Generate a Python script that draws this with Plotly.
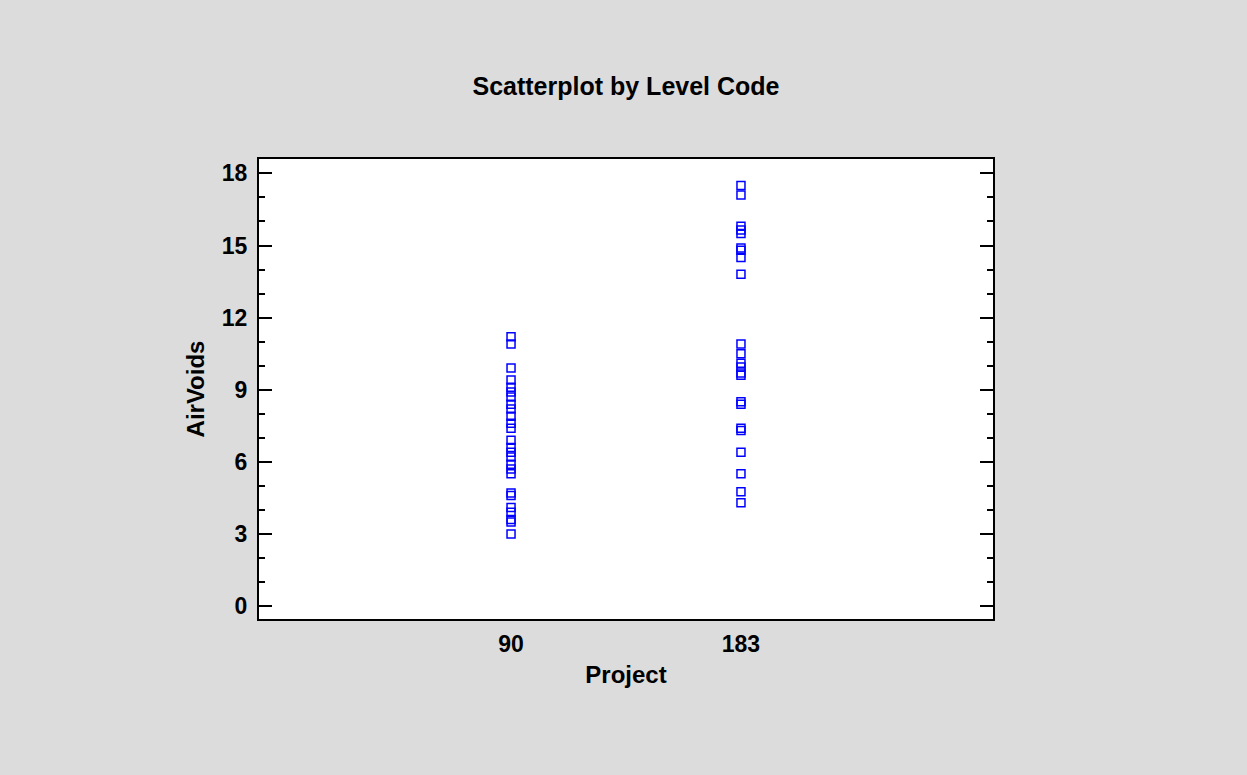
import plotly.graph_objects as go

projects = ["90", "183"]
airvoids_90 = [11.2, 10.9, 9.9, 9.4, 9.1, 8.9, 8.7, 8.4, 8.2, 7.9, 7.6, 7.4, 6.9, 6.6,
               6.4, 6.2, 5.9, 5.7, 5.5, 4.7, 4.6, 4.1, 3.9, 3.6, 3.5, 3.0]
airvoids_183 = [17.5, 17.1, 15.8, 15.65, 15.5, 14.9, 14.8, 14.5, 13.8, 10.9, 10.5, 10.1,
                9.95, 9.7, 9.6, 8.5, 8.4, 7.4, 7.3, 6.4, 5.5, 4.75, 4.3]
y_ticks = [0, 3, 6, 9, 12, 15, 18]

xs = [projects[0]] * len(airvoids_90) + [projects[1]] * len(airvoids_183)
ys = airvoids_90 + airvoids_183

fig = go.Figure()
fig.add_trace(go.Scatter(
    x=xs, y=ys, mode="markers",
    marker=dict(symbol="square-open", size=8, color="#0000ff",
                line=dict(color="#0000ff", width=1.5)),
    showlegend=False,
))

font_family = "Liberation Sans, Arial, sans-serif"
fig.update_layout(
    width=1247, height=775,
    paper_bgcolor="#dcdcdc", plot_bgcolor="#ffffff",
    margin=dict(l=259, r=254, t=159, b=156),
    title=dict(text="<b>Scatterplot by Level Code</b>", x=0.502, xanchor="center",
               y=1 - 86 / 775, yanchor="middle",
               font=dict(family=font_family, size=25, color="#000000")),
    font=dict(family=font_family, color="#000000"),
)
fig.update_xaxes(
    type="category", categoryorder="array", categoryarray=projects,
    tickvals=projects, ticktext=["<b>%s</b>" % p for p in projects],
    range=[-1.096, 2.096], showgrid=False, zeroline=False,
    showline=True, linecolor="#000000", linewidth=2, mirror=True,
    ticks="", ticklabelstandoff=3,
    tickfont=dict(family=font_family, size=23, color="#000000"),
    title=dict(text="<b>Project</b>", font=dict(family=font_family, size=24, color="#000000"),
               standoff=11),
)
fig.update_yaxes(
    range=[-0.54, 18.6], tickvals=y_ticks, ticktext=["<b>%d</b>" % v for v in y_ticks],
    showgrid=False, zeroline=False,
    showline=True, linecolor="#000000", linewidth=2, mirror="allticks",
    ticks="inside", ticklen=13, tickwidth=2, tickcolor="#000000",
    minor=dict(dtick=1, ticks="inside", ticklen=6, tickwidth=2, tickcolor="#000000", showgrid=False),
    ticklabelstandoff=5,
    tickfont=dict(family=font_family, size=23, color="#000000"),
    title=dict(text="<b>AirVoids</b>", font=dict(family=font_family, size=24, color="#000000"),
               standoff=10),
)

fig.write_html(
    "out.html",
    config={"displayModeBar": False},
    post_script="document.body.style.margin='0';document.body.style.background='#dcdcdc';",
)
